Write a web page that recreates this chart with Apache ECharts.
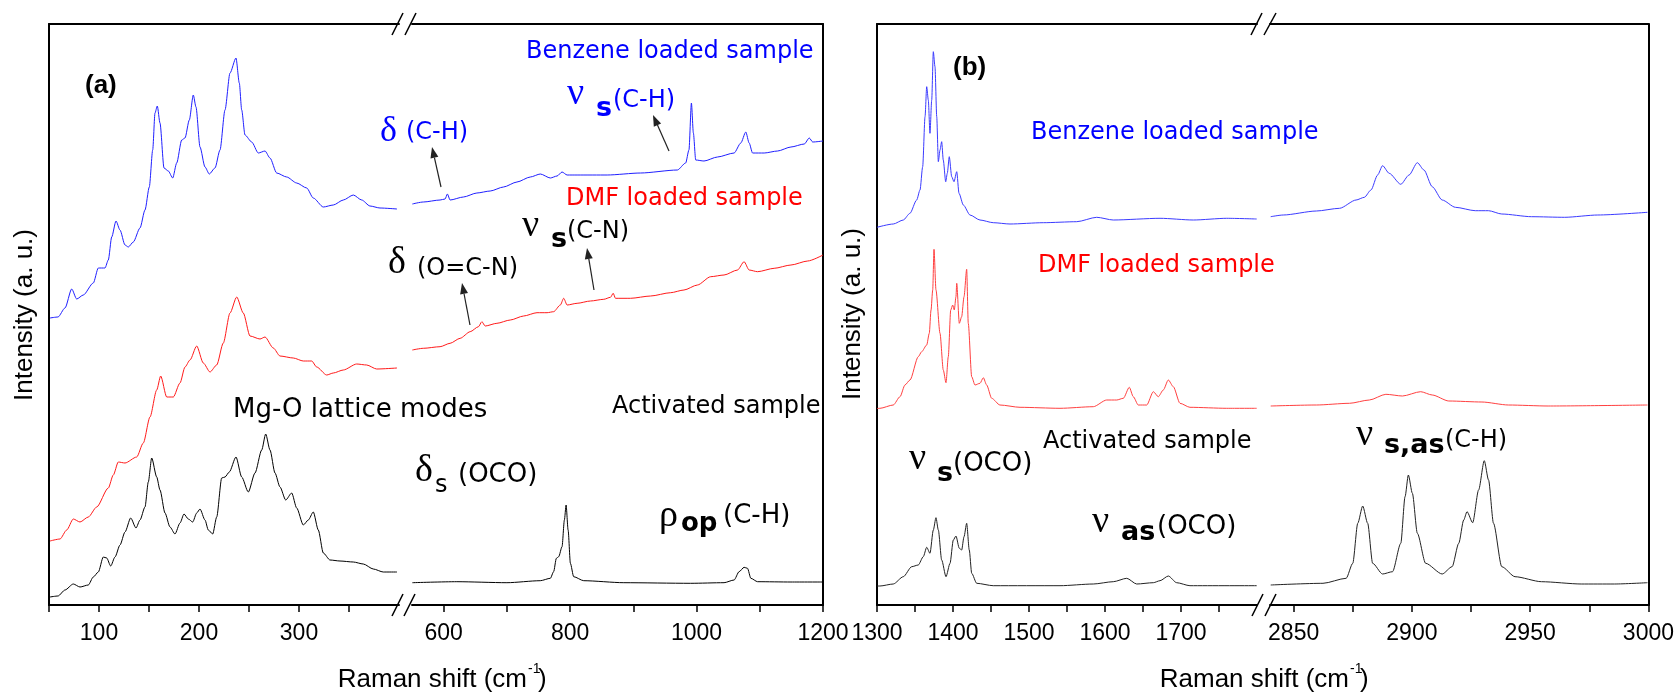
<!DOCTYPE html>
<html>
<head>
<meta charset="utf-8">
<script src="https://cdn.jsdelivr.net/npm/echarts@6/dist/echarts.min.js"></script>
<style>
  html, body { margin: 0; padding: 0; background: #fff; }
  #chart { width: 1677px; height: 694px; }
</style>
</head>
<body>
<div id="chart"></div>
<script>
  // Raman spectra, intensity in arbitrary units, [shift (cm-1), intensity]
  // panel (a), low-shift window 50-400
  var benzeneA1 = [[51,287],[59,288],[66,297],[72.7,316],[77.7,306],[84.3,310],[94.3,322],[99.3,337],[106,337],[109.3,345],[112.7,368],[117,384],[121,375],[126,360],[129.3,358],[134.3,363],[141,377],[146,395],[150.3,418],[153.7,455],[156,492],[158.3,499],[161,482],[165,437],[169.3,434],[173.7,427],[177.7,442],[182.7,465],[186,467],[190.3,485],[194.3,510],[197,498],[201,458],[206,438],[210.3,431],[216,437],[221,455],[226,495],[231,532],[237,547],[240.3,522],[242.7,495],[246,470],[252.7,463],[259.3,452],[266,454],[271,447],[277.7,432],[287.7,428],[297.7,422],[307.7,417],[314.3,407],[324.3,398],[334.3,400],[344.3,405],[354.3,410],[362.7,405],[371,399],[381,397],[398,396]];
  var dmfA1 = [[51,64],[61,66],[67.7,75],[74.3,86],[81,83],[89.3,88],[97.7,98],[109.3,117],[114.3,130],[119.3,143],[126,142],[137.7,148],[144.3,162],[151,188],[157.7,215],[161.7,229],[167.7,208],[174.3,208],[181,222],[186,238],[191,245],[197.7,259],[204.3,242],[211,233],[217.7,240],[224.3,262],[231,292],[237.7,308],[244.3,292],[251,269],[261,266],[266,268],[274.3,257],[281,249],[294.3,247],[304.3,244],[312.7,244],[317.7,238],[327.7,230],[334.3,232],[344.3,235],[357.7,241],[367.7,240],[377.7,236],[398,237]];
  var activA1 = [[51,8],[59,9],[66,15],[74.3,21],[81,18],[89.3,20],[94.3,28],[99.3,33],[104.3,48],[107.7,47],[111.7,39],[116,48],[121,60],[126,73],[131.7,87],[137,77],[141,85],[146,98],[149.3,123],[152.7,147],[157.7,128],[161,115],[166,92],[171,78],[176,71],[181,82],[185,91],[189.3,86],[193.7,83],[197.7,92],[201,96],[206,85],[209.3,75],[213.7,71],[217.7,88],[222.7,127],[226,128],[230.3,133],[237,148],[242.7,128],[249.3,113],[256,132],[262.7,155],[266.7,171],[271,155],[276,132],[281,118],[286.7,105],[292.7,112],[297.7,97],[304.3,80],[309.3,85],[314.3,93],[319.3,75],[324.3,52],[331,45],[341,44],[354.3,43],[364.3,41],[374.3,36],[384.3,33],[398,33]];

  // panel (a), window 550-1200
  var benzeneA2 = [[550.5,401],[567.9,403],[594.4,405],[602.3,406],[606,411],[610.2,405],[631.3,408],[652.6,412],[673.7,414],[694.7,418],[716,423],[737.1,428],[753,431],[768.8,427],[779.4,429],[787.3,433],[795.3,430],[811.1,430],[858.7,430],[911.5,432],[969.7,435],[982.8,442],[988,455],[991.9,502],[995,472],[998.7,445],[1011.8,444],[1033.1,448],[1059.4,452],[1070,462],[1077.9,473],[1083.2,462],[1088.6,452],[1107,452],[1128.2,454],[1149.3,458],[1170.4,461],[1178.3,467],[1183.7,463],[1200,464]];
  var dmfA2 = [[550.5,255],[567.9,256.7],[594.4,258.3],[610.2,261.7],[626.1,266.7],[642,273.3],[655.1,278.3],[660.5,283.3],[665.7,279],[684.3,281.7],[705.4,285],[726.5,289],[747.7,292.3],[763.6,292.3],[774,293.3],[784.6,300],[789.9,306.7],[795.3,300],[811.1,301.7],[832.2,304],[853.3,305.7],[863.9,307.7],[868.2,311.7],[871.8,306.7],[895.6,306.7],[927.3,309],[959,312.3],[980.1,315],[1001.4,320],[1022.4,328.3],[1043.5,330],[1064.8,335],[1075.2,343.3],[1083.2,335],[1096.5,333.3],[1122.8,336.7],[1149.3,340],[1175.8,344],[1200,350]];
  var activA2 = [[550.5,22.3],[620.9,23.3],[700.1,22.3],[752.9,24.3],[768.8,26.7],[774,33.3],[778.3,46.7],[782,48.3],[787.3,58.3],[791,85],[793.7,100],[796.9,75],[800.5,41.7],[805.7,28.3],[821.6,24.3],[885,22.3],[990.7,21.7],[1043.5,22.3],[1059.4,25],[1067.3,33.3],[1075.2,37.7],[1080.6,36.7],[1085.9,26.7],[1096.5,23.3],[1149.3,23],[1200,23]];

  // panel (b), window 1300-1800
  var benzeneB1 = [[1300,377.7],[1321.4,381],[1334.6,385],[1343.4,391.7],[1352.2,405],[1356.6,415],[1360.1,438.3],[1363.2,488.3],[1365.4,518.3],[1367.5,505],[1369.7,471.7],[1372,505],[1374.1,553.3],[1376.3,538.3],[1378.6,488.3],[1380.7,443.3],[1382.9,455],[1385.1,463.3],[1387.2,445],[1390.4,423.3],[1392.5,431.7],[1395.1,448.3],[1398.3,428.3],[1401.3,423.3],[1404.9,433.3],[1407.9,411.7],[1413.6,400],[1422.4,390],[1435.5,385],[1453,382.3],[1475,381],[1518.8,382.3],[1562.8,383.3],[1589.1,387.7],[1610.9,385],[1672.4,386.7],[1716.2,385],[1760.1,386.7],[1799.6,386]];
  var dmfB1 = [[1300,196.5],[1303.9,196.7],[1321.4,200],[1330.3,208.3],[1336.8,220],[1343.4,225],[1354.3,248.3],[1358.8,253.3],[1365.4,260],[1368.8,271.7],[1371.1,295],[1373.3,315],[1375,355.7],[1377.6,315],[1382.9,271.7],[1387.2,235],[1390.8,222.3],[1393.8,248.3],[1397,295],[1399.6,300],[1401.7,295],[1403.9,308.3],[1404.9,321.7],[1408.3,281.7],[1411.4,288.3],[1414.5,308.3],[1418,335.7],[1420.1,281.7],[1424.6,228.3],[1428.9,220],[1435.5,221.7],[1439.9,227.3],[1444.3,220],[1450.9,206.7],[1461.8,200],[1488.2,197.7],[1540.8,196.7],[1584.6,198.3],[1602.2,205],[1615.4,205],[1624.1,206.7],[1632,217.7],[1637.2,208.3],[1643.8,200],[1654.9,200],[1663.6,213.3],[1670.1,208.3],[1676.7,215],[1683.3,225],[1689.9,218.3],[1698.7,201.7],[1711.8,197.7],[1760.1,196.7],[1799.6,196.7]];
  var activB1 = [[1300,19],[1303.9,19],[1321.4,21],[1334.6,28.3],[1345.7,38.3],[1354.3,40],[1360.9,48.3],[1365.4,57.7],[1369.7,51.7],[1374.1,75],[1377.6,87.3],[1380.7,75],[1385.1,45],[1390.8,28.3],[1396.1,41.7],[1400.4,65],[1403.9,69],[1408.3,56.7],[1411.4,55],[1414.5,68.3],[1418,81.7],[1421.4,55],[1424.6,31.7],[1431.2,21.7],[1453,19.3],[1540.8,19.3],[1584.6,21],[1610.9,23.3],[1628.6,26.7],[1641.7,21],[1663.6,22.3],[1672.4,24.3],[1683.3,29],[1694.3,22.3],[1711.8,19.3],[1799.6,19.3]];

  // panel (b), window 2840-3000
  var benzeneB2 = [[2840.3,388.3],[2845.6,390],[2859.6,394],[2869.4,396.7],[2876.4,405],[2879.9,407.7],[2882.7,415],[2885.5,430],[2887.6,439.3],[2890.4,431.7],[2895.3,420.7],[2898.8,430],[2902.3,442.3],[2905.1,435],[2908.6,418.3],[2912.8,405],[2918.4,397.7],[2926.8,394.3],[2932.4,394.3],[2938,391],[2950.6,388.3],[2964.6,387.7],[2978.6,390],[2999.6,392.7]];
  var dmfB2 = [[2840.3,199],[2859.6,200],[2873.6,201.7],[2882,205],[2889,210.7],[2896,209],[2903.7,213.3],[2908.6,210],[2915.6,204],[2929.6,203],[2940.8,200],[2957.6,199],[2999.6,200]];
  var activB2 = [[2840.3,20],[2862.4,21.7],[2872.2,26.7],[2875,41.7],[2877.1,81.7],[2879.2,99],[2881.3,81.7],[2883.4,41.7],[2887.6,31],[2891.8,33.3],[2895.3,61.7],[2897.1,108.3],[2898.5,130],[2900.2,111.7],[2902.3,71.7],[2905.8,41.7],[2912.8,31],[2917,38.3],[2919.8,61.7],[2921.9,85],[2923.3,93.3],[2925.7,82.3],[2928.2,115],[2930.6,144.3],[2932.4,125],[2934.5,81.7],[2938,38.3],[2943.6,28.3],[2954.8,23.3],[2971.6,21],[2985.6,21],[2999.6,22.3]];

  // axis windows, ticks and labels
  var ranges = [[50, 400], [550, 1200], [1300, 1800], [2840, 3000]];
  var tickVals = [
    [50, 100, 150, 200, 250, 300, 350],
    [600, 700, 800, 900, 1000, 1100, 1200],
    [1300, 1350, 1400, 1450, 1500, 1550, 1600, 1650, 1700, 1750],
    [2850, 2875, 2900, 2925, 2950, 2975, 3000]
  ];
  var labelVals = [
    [100, 200, 300],
    [600, 800, 1000, 1200],
    [1300, 1400, 1500, 1600, 1700],
    [2850, 2900, 2950, 3000]
  ];
  var yMax = 581;

  var chart = echarts.init(document.getElementById('chart'));
  var axisLineStyle = { color: '#000', width: 2 };

  function bottomAxis(i) {
    return {
      type: 'value', gridIndex: i, position: 'bottom',
      min: ranges[i][0], max: ranges[i][1],
      axisLine: { show: true, onZero: false, lineStyle: axisLineStyle },
      axisTick: { show: true, inside: false, length: 7, customValues: tickVals[i], lineStyle: { color: '#000', width: 1.5 } },
      axisLabel: {
        show: true, customValues: labelVals[i], margin: 17, color: '#000', fontSize: 23, fontFamily: 'Liberation Sans',
        formatter: function (v) { return String(v); }
      },
      splitLine: { show: false }
    };
  }
  function topAxis(i) {
    return {
      type: 'value', gridIndex: i, position: 'top',
      min: ranges[i][0], max: ranges[i][1],
      axisLine: { show: true, onZero: false, lineStyle: axisLineStyle },
      axisTick: { show: false }, axisLabel: { show: false }, splitLine: { show: false }
    };
  }
  function sideAxis(i, pos) {
    return {
      type: 'value', gridIndex: i, position: pos, min: 0, max: yMax,
      axisLine: { show: true, onZero: false, lineStyle: axisLineStyle },
      axisTick: { show: false }, axisLabel: { show: false }, splitLine: { show: false }
    };
  }
  function spectrum(data, i, color) {
    return {
      type: 'line', data: data, xAxisIndex: i, yAxisIndex: i,
      symbol: 'none', smooth: 0.25, smoothMonotone: 'x', silent: true,
      lineStyle: { color: color, width: 1 }
    };
  }

  // annotation helpers
  var sans = 'DejaVu Sans', serif = 'Liberation Serif';
  function txt(x, y, s, size, color, family, weight, align) {
    return {
      type: 'text', x: x, y: y, z: 10,
      style: { text: s, fontSize: size, fill: color, fontFamily: family, fontWeight: weight || 'normal', align: align || 'left', verticalAlign: 'middle' }
    };
  }
  function arrow(x1, y1, x2, y2) {
    var dx = x2 - x1, dy = y2 - y1, L = Math.sqrt(dx * dx + dy * dy);
    var ux = dx / L, uy = dy / L, hl = 11, hw = 4;
    var bx = x2 - ux * hl, by = y2 - uy * hl;
    return [
      { type: 'line', z: 10, shape: { x1: x1, y1: y1, x2: bx, y2: by }, style: { stroke: '#222', lineWidth: 1.2 } },
      { type: 'polygon', z: 10, shape: { points: [[x2, y2], [bx - uy * hw, by + ux * hw], [bx + uy * hw, by - ux * hw]] }, style: { fill: '#222' } }
    ];
  }
  function slash(x1, y1, x2, y2) {
    return { type: 'line', z: 10, shape: { x1: x1, y1: y1, x2: x2, y2: y2 }, style: { stroke: '#000', lineWidth: 1.5 } };
  }

  var blue = '#0000ff', red = '#ff0000', black = '#000';
  var graphics = [
    // panel (a)
    txt(85, 86, '(a)', 26, black, 'Liberation Sans', 'bold'),
    txt(526, 52, 'Benzene loaded sample', 24, blue, sans),
    txt(380, 132, 'δ', 36, blue, serif),
    txt(406, 133, '(C-H)', 24, blue, sans),
    txt(567, 94, 'ν', 38, blue, serif),
    txt(596, 109, 's', 27, blue, sans, 'bold'),
    txt(613, 101, '(C-H)', 24, blue, sans),
    txt(566, 199, 'DMF loaded sample', 24, red, sans),
    txt(522, 226, 'ν', 38, black, serif),
    txt(551, 240, 's', 27, black, sans, 'bold'),
    txt(567, 232, '(C-N)', 24, black, sans),
    txt(388, 263, 'δ', 38, black, serif),
    txt(417, 269, '(O=C-N)', 24, black, sans),
    txt(233, 410, 'Mg-O lattice modes', 26, black, sans),
    txt(612, 407, 'Activated sample', 24, black, sans),
    txt(415, 471, 'δ', 38, black, serif),
    txt(435, 486, 's', 24, black, sans),
    txt(458, 475, '(OCO)', 26, black, sans),
    txt(659, 516, 'ρ', 38, black, serif),
    txt(681, 524, 'op', 26, black, sans, 'bold'),
    txt(723, 516, '(C-H)', 26, black, sans),
    // panel (b)
    txt(953, 68, '(b)', 26, black, 'Liberation Sans', 'bold'),
    txt(1031, 133, 'Benzene loaded sample', 24, blue, sans),
    txt(1038, 266, 'DMF loaded sample', 24, red, sans),
    txt(1043, 442, 'Activated sample', 24, black, sans),
    txt(909, 459, 'ν', 38, black, serif),
    txt(937, 474, 's', 27, black, sans, 'bold'),
    txt(953, 464, '(OCO)', 26, black, sans),
    txt(1092, 522, 'ν', 38, black, serif),
    txt(1121, 533, 'as', 27, black, sans, 'bold'),
    txt(1157, 527, '(OCO)', 26, black, sans),
    txt(1356, 435, 'ν', 38, black, serif),
    txt(1384, 446, 's,as', 27, black, sans, 'bold'),
    txt(1445, 441, '(C-H)', 24, black, sans),
    // axis titles
    { type: 'text', x: 25, y: 315, rotation: Math.PI / 2, style: { text: 'Intensity (a. u.)', fontSize: 26, fontFamily: 'Liberation Sans', fill: black, align: 'center', verticalAlign: 'middle' } },
    { type: 'text', x: 853, y: 314, rotation: Math.PI / 2, style: { text: 'Intensity (a. u.)', fontSize: 26, fontFamily: 'Liberation Sans', fill: black, align: 'center', verticalAlign: 'middle' } },
    txt(527, 680, 'Raman shift (cm', 26, black, 'Liberation Sans', 'normal', 'right'),
    txt(528, 669, '-1', 14, black, 'Liberation Sans'),
    txt(538, 680, ')', 26, black, 'Liberation Sans'),
    txt(1349, 680, 'Raman shift (cm', 26, black, 'Liberation Sans', 'normal', 'right'),
    txt(1350, 669, '-1', 14, black, 'Liberation Sans'),
    txt(1360, 680, ')', 26, black, 'Liberation Sans'),
    // axis breaks
    slash(392, 35, 403, 13), slash(405, 35, 416, 13),
    slash(392, 616, 403, 594), slash(404, 616, 415, 594),
    slash(1251, 35, 1262, 13), slash(1264, 35, 1276, 13),
    slash(1252, 616, 1263, 594), slash(1265, 616, 1276, 594)
  ].concat(
    arrow(441, 187, 432, 147),
    arrow(669, 151, 653, 115),
    arrow(594, 290, 587, 248),
    arrow(470, 325, 462, 283)
  );

  var option = {
    backgroundColor: '#fff',
    animation: false,
    grid: [
      { left: 49, top: 24, width: 350, height: 581 },
      { left: 412, top: 24, width: 411, height: 581 },
      { left: 877, top: 24, width: 380, height: 581 },
      { left: 1270, top: 24, width: 380, height: 581 }
    ],
    xAxis: [bottomAxis(0), bottomAxis(1), bottomAxis(2), bottomAxis(3), topAxis(0), topAxis(1), topAxis(2), topAxis(3)],
    yAxis: [sideAxis(0, 'left'), sideAxis(1, 'right'), sideAxis(2, 'left'), sideAxis(3, 'right')],
    series: [
      spectrum(benzeneA1, 0, '#1f1fff'), spectrum(dmfA1, 0, '#ff1a1a'), spectrum(activA1, 0, '#000'),
      spectrum(benzeneA2, 1, '#1f1fff'), spectrum(dmfA2, 1, '#ff1a1a'), spectrum(activA2, 1, '#000'),
      spectrum(benzeneB1, 2, '#3b3bff'), spectrum(dmfB1, 2, '#ff4040'), spectrum(activB1, 2, '#222'),
      spectrum(benzeneB2, 3, '#3b3bff'), spectrum(dmfB2, 3, '#ff4040'), spectrum(activB2, 3, '#222')
    ],
    graphic: graphics
  };
  chart.setOption(option);
</script>
</body>
</html>
